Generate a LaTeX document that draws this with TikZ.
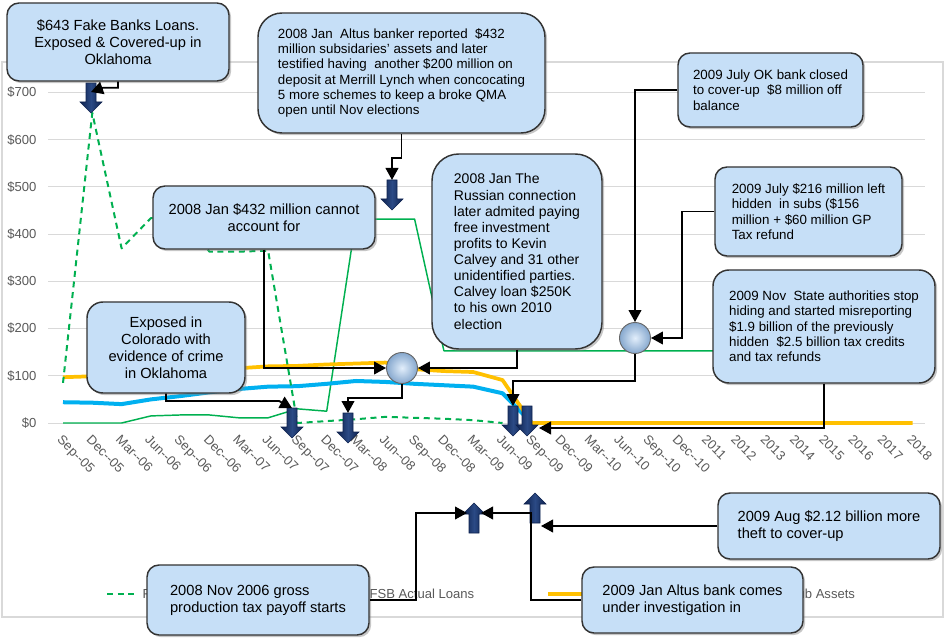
\documentclass[tikz,border=0pt]{standalone}
\usepackage{fontspec}
\setmainfont{Liberation Sans}
\usetikzlibrary{arrows.meta,shadows}
\definecolor{boxblue}{HTML}{C6DFF7}
\definecolor{ballin}{HTML}{E2EEFB}
\definecolor{ballout}{HTML}{86A8CE}
\definecolor{navydark}{HTML}{0E224F}
\definecolor{navylight}{HTML}{2B4A85}
\definecolor{axisgray}{HTML}{595959}
\definecolor{gridgray}{HTML}{D9D9D9}
\definecolor{loangreen}{HTML}{00B050}
\definecolor{assetgold}{HTML}{FFC000}
\definecolor{subblue}{HTML}{00B0F0}

\begin{document}
\begin{tikzpicture}[x=0.75pt,y=-0.75pt,
	note_box/.style={draw=black!80,line width=1.1pt,fill=boxblue,rounded corners=9pt,align=left,inner sep=0pt,drop shadow={shadow xshift=1.6pt,shadow yshift=-1.6pt,opacity=0.45}},
	big_font/.style={font=\fontsize{11}{12.75}\selectfont},
	mid_font/.style={font=\fontsize{10.5}{12.1}\selectfont},
	small_font/.style={font=\fontsize{10}{11.5}\selectfont},
	sum_ball/.style={circle,minimum size=23.25pt,inner sep=0pt,inner color=ballin,outer color=ballout,draw=black!60,line width=0.7pt},
	link/.style={draw=black,line width=1.4pt,-{Triangle[length=9pt,width=9.5pt]}},
	axis_lab/.style={font=\fontsize{9.8}{11}\selectfont,text=axisgray,inner sep=1pt},
	grid_line/.style={draw=gridgray,line width=0.75pt},
	dark_down/.pic={
		\path[draw=navydark,line width=0.4pt,left color=navydark,right color=navydark,middle color=navylight] (-5,0) -- (5,0) -- (5,19) -- (11,19) -- (0,30) -- (-11,19) -- (-5,19) -- cycle;
		\coordinate (-top) at (0,0);
		\coordinate (-mid) at (0,9);
		\coordinate (-side) at (12,22);
	},
	dark_up/.pic={
		\path[draw=navydark,line width=0.4pt,left color=navydark,right color=navydark,middle color=navylight] (0,0) -- (11,11) -- (5,11) -- (5,30) -- (-5,30) -- (-5,11) -- (-11,11) -- cycle;
		\coordinate (-west) at (-7,10);
		\coordinate (-east) at (7,10);
		\coordinate (-low) at (6,33);
	}]

	\useasboundingbox (0,0) rectangle (947,638);
	\draw[draw=gridgray,line width=0.9pt] (2,62) rectangle (943,617);

	\foreach \v in {0,100,...,700}
		\draw[grid_line] (48,{423-0.472*\v}) -- (925,{423-0.472*\v});
	\foreach \v in {0,100,...,700}
		\node[axis_lab,anchor=east] at (38,{423-0.472*\v}) {\$\v};
	\foreach \lab [count=\i from 0] in {Sep-{}-05,Dec-{}-05,Mar-{}-06,Jun-{}-06,Sep-{}-06,Dec-{}-06,Mar-{}-07,Jun-{}-07,Sep-{}-07,Dec-{}-07,Mar-{}-08,Jun-{}-08,Sep-{}-08,Dec-{}-08,Mar-{}-09,Jun-{}-09,Sep-{}-09,Dec-{}-09,Mar-{}-10,Jun-{}-10,Sep-{}-10,Dec-{}-10,2011,2012,2013,2014,2015,2016,2017,2018}
		\node[axis_lab,rotate=-45,anchor=north west] at ({63+29.3*\i},432) {\lab};

	\begin{scope}[xshift=47.25pt,yshift=-317.25pt,x=21.975pt,y=0.354pt,line join=round]
		\draw[loangreen,line width=1.1pt] plot coordinates {(0,0) (1,0) (2,0) (3,15) (4,17) (5,17) (6,11) (7,11) (8,30) (9,25) (10,432) (11,432) (12,432) (13,153) (23,153)};
		\draw[subblue,line width=3pt] plot coordinates {(0,44) (1,43) (2,40) (3,50) (4,57) (5,65) (6,72) (7,77) (8,78) (9,83) (10,89) (11,87) (12,83) (13,80) (14,77) (15,63) (16,0)};
		\draw[assetgold,line width=2.8pt] plot coordinates {(0,97) (1,99) (2,101) (3,104) (4,108) (5,112) (6,116) (7,120) (8,121) (9,124) (10,126) (11,128) (12,114) (13,110) (14,108) (15,91) (16,0) (29,0)};
		\draw[loangreen,line width=1.5pt,dash pattern=on 4.5pt off 3.5pt] plot coordinates {(0,85) (1,657) (2,370) (3,434) (4,432) (5,363) (6,363) (7,365) (8,0) (9,4) (10,8) (11,13) (12,11) (13,9) (14,6) (15,0)};
	\end{scope}

	\draw[loangreen,line width=1.5pt,dash pattern=on 4.5pt off 3.5pt] (107,594) -- (137,594);
	\node[axis_lab,anchor=west] (leg1) at (141,594) {F};
	\node[axis_lab,anchor=west] (leg2) at (368,594) {FSB Actual Loans};
	\draw[assetgold,line width=2.8pt] (548,594) -- (582,594);
	\node[axis_lab,anchor=west] (leg3) at (796,594) {ub Assets};

	\pic (m1) at (91,83) {dark_down};
	\pic (m2) at (392,180) {dark_down};
	\pic (m3) at (292,408) {dark_down};
	\pic (m4) at (348,413) {dark_down};
	\pic (m5) at (513,406) {dark_down};
	\pic (m6) at (527,406) {dark_down};
	\pic (u1) at (474,503) {dark_up};
	\pic (u2) at (535,493) {dark_up};

	\node[sum_ball] (12) at (402,368) {};
	\node[sum_ball] (13) at (635,338) {};

	\node[note_box,big_font,align=center,minimum width=166.5pt,minimum height=58.5pt] (1) at (118,42) {\$643 Fake Banks Loans.\\Exposed \& Covered-up in\\Oklahoma};
	\node[note_box,small_font,rounded corners=18pt,minimum width=215.25pt,minimum height=90pt] (2) at (401.5,73) {2008 Jan \ Altus banker reported \ \$432\\million subsidaries' assets and later\\testified having \ another \$200 million on\\deposit at Merrill Lynch when concocating\\5 more schemes to keep a broke QMA\\open until Nov elections};
	\node[note_box,big_font,align=center,minimum width=166.5pt,minimum height=47.25pt] (3) at (264,217.5) {2008 Jan \$432 million cannot\\account for};
	\node[note_box,big_font,align=center,rounded corners=12pt,minimum width=118.5pt,minimum height=68.25pt] (4) at (166,347.5) {Exposed in\\Colorado with\\evidence of crime\\in Oklahoma};
	\node[note_box,mid_font,rounded corners=20pt,minimum width=127.5pt,minimum height=146.25pt] (5) at (517,251.5) {2008 Jan The\\Russian connection\\later admited paying\\free investment\\profits to Kevin\\Calvey and 31 other\\unidentified parties.\\Calvey loan \$250K\\to his own 2010\\election};
	\node[note_box,small_font,minimum width=138.75pt,minimum height=55.5pt] (6) at (770.5,90) {2009 July OK bank closed\\to cover-up \ \$8 million off\\balance};
	\node[note_box,small_font,minimum width=140.25pt,minimum height=66.75pt] (7) at (808.5,211.5) {2009 July \$216 million left\\hidden \ in subs (\$156\\million + \$60 million GP\\Tax refund};
	\node[note_box,small_font,rounded corners=12pt,minimum width=166.5pt,minimum height=84.75pt] (8) at (824,326.5) {2009 Nov \ State authorities stop\\hiding and started misreporting\\\$1.9 billion of the previously\\hidden \ \$2.5 billion tax credits\\and tax refunds};
	\node[note_box,big_font,minimum width=166.5pt,minimum height=52.5pt] (9) at (258,600) {2008 Nov 2006 gross\\production tax payoff starts};
	\node[note_box,big_font,minimum width=165.75pt,minimum height=49.5pt] (10) at (692.5,600) {2009 Jan Altus bank comes\\under investigation in};
	\node[note_box,big_font,minimum width=166.5pt,minimum height=49.5pt] (11) at (829,526) {2009 Aug \$2.12 billion more\\theft to cover-up};

	\draw[link] (1.south) -- ++(0,6) -- ++(-15,0) -- (m1-mid);
	\draw[link] (2.south) -- ++(0,24) -| (m2-top);
	\draw[link] (3.south) |- (12.west);
	\draw[link] (5.south) |- (12.east);
	\draw[link] (4.south) |- (279,401) -- (m3-top);
	\draw[link] (12.south) -- ++(0,14) -| (m4-top);
	\draw[link] (6.west) -| (13.north);
	\draw[link] (7.west) -- ++(-32,0) |- (13.east);
	\draw[link] (13.south) -- ++(0,27) -| (m5-top);
	\draw[link] (8.south) |- (m6-side);
	\draw[link] (9.east) -- ++(46,0) |- (u1-west);
	\draw[link] (10.west) -- ++(-50,0) |- (u1-east);
	\draw[link] (11.west) -- (11.west -| u2-low);
\end{tikzpicture}
\end{document}
